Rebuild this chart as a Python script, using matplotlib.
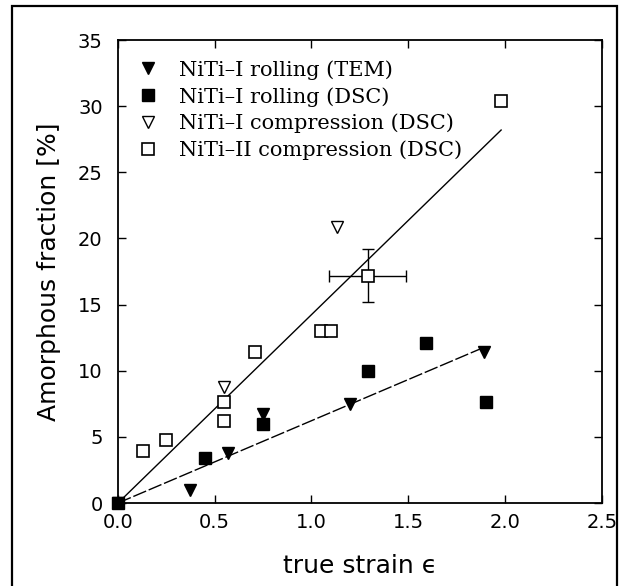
import matplotlib
matplotlib.use("Agg")
import matplotlib.pyplot as plt
from matplotlib.patches import Rectangle

# NiTi-I rolling (TEM)
tem_x = [0.0, 0.37, 0.57, 0.75, 1.20, 1.89]
tem_y = [0.0, 1.0, 3.8, 6.7, 7.5, 11.4]

# NiTi-I rolling (DSC)
roll_dsc_x = [0.0, 0.45, 0.75, 1.29, 1.59, 1.90]
roll_dsc_y = [0.0, 3.4, 6.0, 10.0, 12.1, 7.6]

# NiTi-I compression (DSC)
comp1_x = [0.55, 1.13]
comp1_y = [8.8, 20.9]

# NiTi-II compression (DSC)
comp2_x = [0.13, 0.25, 0.55, 0.55, 0.71, 1.05, 1.10, 1.29, 1.98]
comp2_y = [3.9, 4.8, 7.6, 6.2, 11.4, 13.0, 13.0, 17.2, 30.4]

# error bar on one NiTi-II point
err_x, err_y = 1.29, 17.2
err_dx, err_dy = 0.2, 2.0

# linear fits through the origin
fit_upper_x = [0.0, 1.98]
fit_upper_y = [0.0, 28.2]
fit_lower_x = [0.0, 1.88]
fit_lower_y = [0.0, 11.7]

x_ticks = [0.0, 0.5, 1.0, 1.5, 2.0, 2.5]
y_ticks = [0, 5, 10, 15, 20, 25, 30, 35]


def main():
    fig = plt.figure(figsize=(6.21, 5.86), dpi=100)
    ax = fig.add_axes([0.190, 0.1416, 0.779, 0.790])

    ax.plot(fit_upper_x, fit_upper_y, color="k", lw=1.0)
    ax.plot(fit_lower_x, fit_lower_y, color="k", lw=1.0, dashes=(10, 2))

    ax.errorbar([err_x], [err_y], xerr=[err_dx], yerr=[err_dy], fmt="none",
                ecolor="k", elinewidth=1.0, capsize=4, capthick=1.0)

    ms = 9
    ax.plot(tem_x, tem_y, "v", color="k", ms=ms, ls="none", clip_on=False,
            label="NiTi\u2013I rolling (TEM)")
    ax.plot(roll_dsc_x, roll_dsc_y, "s", color="k", ms=ms - 1, ls="none",
            clip_on=False, label="NiTi\u2013I rolling (DSC)")
    ax.plot(comp1_x, comp1_y, "v", mfc="white", mec="k", mew=1.0, ms=ms,
            ls="none", label="NiTi\u2013I compression (DSC)")
    ax.plot(comp2_x, comp2_y, "s", mfc="white", mec="k", mew=1.2, ms=ms,
            ls="none", label="NiTi\u2013II compression (DSC)")

    ax.set_xlim(0, 2.5)
    ax.set_ylim(0, 35)
    ax.set_xticks(x_ticks)
    ax.set_xticklabels([f"{v:.1f}" for v in x_ticks])
    ax.set_yticks(y_ticks)
    ax.tick_params(direction="in", top=True, right=True, length=6,
                   width=1.0, labelsize=14)
    ax.tick_params(axis="x", pad=7)
    ax.tick_params(axis="y", pad=11)
    for s in ax.spines.values():
        s.set_linewidth(1.3)

    ax.set_xlabel("true strain \u03f5", fontsize=18, labelpad=16)
    ax.set_ylabel("Amorphous fraction [%]", fontsize=18, labelpad=12)

    ax.legend(loc="upper left", frameon=False,
              prop={"family": "DejaVu Serif", "size": 15},
              handletextpad=1.0, labelspacing=0.35, borderaxespad=0.7,
              handlelength=1.0, borderpad=0.25)

    fig.patches.append(Rectangle((0.0193, -0.02), 0.9743, 1.0098,
                                 transform=fig.transFigure, fill=False,
                                 lw=1.6, ec="k"))
    fig.savefig("out.png", dpi=100)


if __name__ == "__main__":
    main()
